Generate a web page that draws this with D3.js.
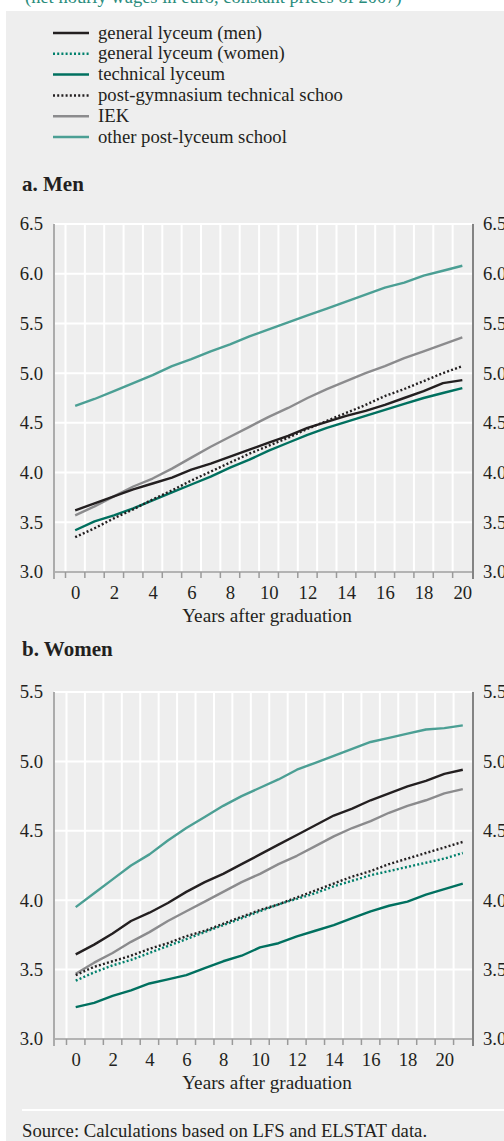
<!DOCTYPE html>
<html>
<head>
<meta charset="utf-8">
<script src="https://cdn.jsdelivr.net/npm/d3@7"></script>
<style>
  html, body { margin: 0; padding: 0; background: #ffffff; }
  svg { display: block; }
  text { font-family: "Liberation Serif", "Times New Roman", serif; }
</style>
</head>
<body>
<svg id="chart" width="504" height="1141"></svg>
<script>
// Net hourly wages by years after graduation, by type of school
const seriesNames = [
  "general lyceum (men)",
  "general lyceum (women)",
  "technical lyceum",
  "post-gymnasium technical schoo",
  "IEK",
  "other post-lyceum school"
];

// Panel a. Men (years 0..20)
const menYears = d3.range(0, 21);
const menGeneral   = [3.62,3.69,3.76,3.83,3.89,3.95,4.03,4.09,4.16,4.23,4.30,4.37,4.45,4.51,4.57,4.62,4.68,4.75,4.82,4.90,4.93];
const menTechnical = [3.42,3.51,3.57,3.64,3.72,3.80,3.88,3.96,4.05,4.13,4.22,4.30,4.38,4.45,4.51,4.57,4.63,4.69,4.75,4.80,4.85];
const menPostGym   = [3.35,3.44,3.54,3.63,3.73,3.82,3.92,4.01,4.10,4.19,4.27,4.35,4.44,4.52,4.60,4.68,4.77,4.84,4.92,5.00,5.07];
const menIEK       = [3.57,3.66,3.76,3.86,3.94,4.04,4.15,4.26,4.36,4.46,4.56,4.65,4.75,4.84,4.92,5.00,5.07,5.15,5.22,5.29,5.36];
const menOther     = [4.67,4.74,4.82,4.90,4.98,5.07,5.14,5.22,5.29,5.37,5.44,5.51,5.58,5.65,5.72,5.79,5.86,5.91,5.98,6.03,6.08];

// Panel b. Women (years 0..21)
const womenYears = d3.range(0, 22);
const womenGeneralMen = [3.61,3.68,3.76,3.85,3.91,3.98,4.06,4.13,4.19,4.26,4.33,4.40,4.47,4.54,4.61,4.66,4.72,4.77,4.82,4.86,4.91,4.94];
const womenGeneral    = [3.42,3.48,3.53,3.57,3.62,3.67,3.72,3.77,3.82,3.87,3.92,3.97,4.01,4.05,4.10,4.14,4.18,4.21,4.24,4.27,4.30,4.34];
const womenTechnical  = [3.23,3.26,3.31,3.35,3.40,3.43,3.46,3.51,3.56,3.60,3.66,3.69,3.74,3.78,3.82,3.87,3.92,3.96,3.99,4.04,4.08,4.12];
const womenPostGym    = [3.46,3.52,3.56,3.60,3.65,3.69,3.74,3.78,3.83,3.88,3.93,3.97,4.02,4.07,4.12,4.17,4.21,4.26,4.30,4.34,4.38,4.42];
const womenIEK        = [3.47,3.55,3.62,3.70,3.77,3.85,3.92,3.99,4.06,4.13,4.19,4.26,4.32,4.39,4.46,4.52,4.57,4.63,4.68,4.72,4.77,4.80];
const womenOther      = [3.95,4.05,4.15,4.25,4.33,4.43,4.52,4.60,4.68,4.75,4.81,4.87,4.94,4.99,5.04,5.09,5.14,5.17,5.20,5.23,5.24,5.26];

const menTicks = [3.0,3.5,4.0,4.5,5.0,5.5,6.0,6.5];
const womenTicks = [3.0,3.5,4.0,4.5,5.0,5.5];
const menXTicks = d3.range(0, 21, 2);
const womenXTicks = d3.range(0, 21, 2);

const styles = {
  "general lyceum (men)":           { color: "#231f20", dash: null },
  "general lyceum (women)":         { color: "#00806c", dash: "2,2.2" },
  "technical lyceum":               { color: "#00705f", dash: null },
  "post-gymnasium technical schoo": { color: "#231f20", dash: "2,2.2" },
  "IEK":                            { color: "#8b8b8d", dash: null },
  "other post-lyceum school":       { color: "#4b9f94", dash: null }
};

const FS = 18.7;
const svg = d3.select("#chart");

// heading line above the panel
svg.append("text")
  .attr("x", 25).attr("y", 3)
  .attr("font-size", 18.5)
  .attr("fill", "#2a8c7c")
  .text("(net hourly wages in euro, constant prices of 2007)");

// shaded panel
svg.append("rect")
  .attr("x", 6).attr("y", 11).attr("width", 498).attr("height", 1130)
  .attr("fill", "#eeeeee");

// legend
const legend = svg.append("g");
seriesNames.forEach((name, i) => {
  const y = 33 + i * 20.8;
  const st = styles[name];
  legend.append("line")
    .attr("x1", 53).attr("x2", 89).attr("y1", y).attr("y2", y)
    .attr("stroke", st.color).attr("stroke-width", 2.5)
    .attr("stroke-dasharray", st.dash);
  legend.append("text")
    .attr("x", 98).attr("y", y + 5.5)
    .attr("font-size", FS).attr("fill", "#231f20")
    .text(name);
});

function panel(opt) {
  const g = svg.append("g");
  const left = 54, right = 472;
  const x = d3.scaleLinear()
    .domain([-0.5, opt.years.length - 0.5])
    .range([opt.x0, right]);
  const y = d3.scaleLinear().domain([3.0, opt.yMax]).range([opt.bottom, opt.top]);

  g.append("text")
    .attr("x", 22).attr("y", opt.titleY)
    .attr("font-size", 21).attr("font-weight", "bold").attr("fill", "#231f20")
    .text(opt.title);

  // white grid
  const grid = g.append("g").attr("stroke", "#ffffff").attr("stroke-width", 2);
  opt.yTicks.forEach(v => {
    grid.append("line").attr("x1", left).attr("x2", right)
      .attr("y1", y(v)).attr("y2", y(v));
  });
  d3.range(0, opt.years.length).forEach(k => {
    grid.append("line").attr("x1", x(k - 0.5)).attr("x2", x(k - 0.5))
      .attr("y1", opt.top).attr("y2", opt.bottom);
  });

  // bottom axis line with small ticks at category boundaries
  const axisG = g.append("g").attr("stroke", "#9a9a9a").attr("stroke-width", 1.5);
  axisG.append("line").attr("x1", left).attr("x2", right)
    .attr("y1", opt.bottom).attr("y2", opt.bottom);
  d3.range(0, opt.years.length).forEach(k => {
    axisG.append("line").attr("x1", x(k - 0.5)).attr("x2", x(k - 0.5))
      .attr("y1", opt.bottom).attr("y2", opt.bottom + 6);
  });

  // left and right axis lines
  g.append("line").attr("x1", left).attr("x2", left)
    .attr("y1", opt.top).attr("y2", opt.bottom + 7)
    .attr("stroke", "#ababab").attr("stroke-width", 2);
  g.append("line").attr("x1", right + 1).attr("x2", right + 1)
    .attr("y1", opt.top).attr("y2", opt.bottom + 7)
    .attr("stroke", "#4a4a4a").attr("stroke-width", 1.3);

  // y tick labels, both sides
  const fmt = d3.format(".1f");
  const yl = g.append("g").attr("transform", `translate(${left - 11},0)`)
    .call(d3.axisLeft(y).tickValues(opt.yTicks).tickFormat(fmt).tickSize(0).tickPadding(0));
  const yr = g.append("g").attr("transform", `translate(${right + 11},0)`)
    .call(d3.axisRight(y).tickValues(opt.yTicks).tickFormat(fmt).tickSize(0).tickPadding(0));
  [yl, yr].forEach(a => {
    a.select(".domain").remove();
    a.selectAll("text")
      .attr("font-family", "Liberation Serif, serif")
      .attr("font-size", FS).attr("fill", "#231f20");
  });

  // x tick labels
  const xa = g.append("g").attr("transform", `translate(0,${opt.bottom + 9})`)
    .call(d3.axisBottom(x).tickValues(opt.xTicks).tickFormat(d3.format("d")).tickSize(0).tickPadding(5));
  xa.select(".domain").remove();
  xa.selectAll("text")
    .attr("font-family", "Liberation Serif, serif")
    .attr("font-size", FS).attr("fill", "#231f20");

  g.append("text")
    .attr("x", 267).attr("y", opt.bottom + 50)
    .attr("text-anchor", "middle")
    .attr("font-size", 19.2).attr("fill", "#231f20")
    .text("Years after graduation");

  // series lines
  const line = d3.line().x((d, i) => x(opt.years[i])).y(d => y(d)).curve(d3.curveLinear);
  opt.series.forEach(s => {
    const st = styles[s.name];
    g.append("path")
      .datum(s.values)
      .attr("d", line)
      .attr("fill", "none")
      .attr("stroke", st.color)
      .attr("stroke-width", 2.4)
      .attr("stroke-linejoin", "round")
      .attr("stroke-dasharray", st.dash);
  });
}

panel({
  title: "a. Men", titleY: 191,
  years: menYears, top: 224, bottom: 572, yMax: 6.5, x0: 65.5,
  yTicks: menTicks, xTicks: menXTicks,
  series: [
    { name: "other post-lyceum school", values: menOther },
    { name: "IEK", values: menIEK },
    { name: "technical lyceum", values: menTechnical },
    { name: "post-gymnasium technical schoo", values: menPostGym },
    { name: "general lyceum (men)", values: menGeneral }
  ]
});

panel({
  title: "b. Women", titleY: 656,
  years: womenYears, top: 692, bottom: 1039, yMax: 5.5, x0: 66.5,
  yTicks: womenTicks, xTicks: womenXTicks,
  series: [
    { name: "other post-lyceum school", values: womenOther },
    { name: "IEK", values: womenIEK },
    { name: "technical lyceum", values: womenTechnical },
    { name: "general lyceum (women)", values: womenGeneral },
    { name: "post-gymnasium technical schoo", values: womenPostGym },
    { name: "general lyceum (men)", values: womenGeneralMen }
  ]
});

// source note
svg.append("line")
  .attr("x1", 22).attr("x2", 504).attr("y1", 1110).attr("y2", 1110)
  .attr("stroke", "#ffffff").attr("stroke-width", 2);
svg.append("text")
  .attr("x", 22).attr("y", 1137)
  .attr("font-size", FS).attr("fill", "#231f20")
  .text("Source: Calculations based on LFS and ELSTAT data.");
</script>
</body>
</html>
